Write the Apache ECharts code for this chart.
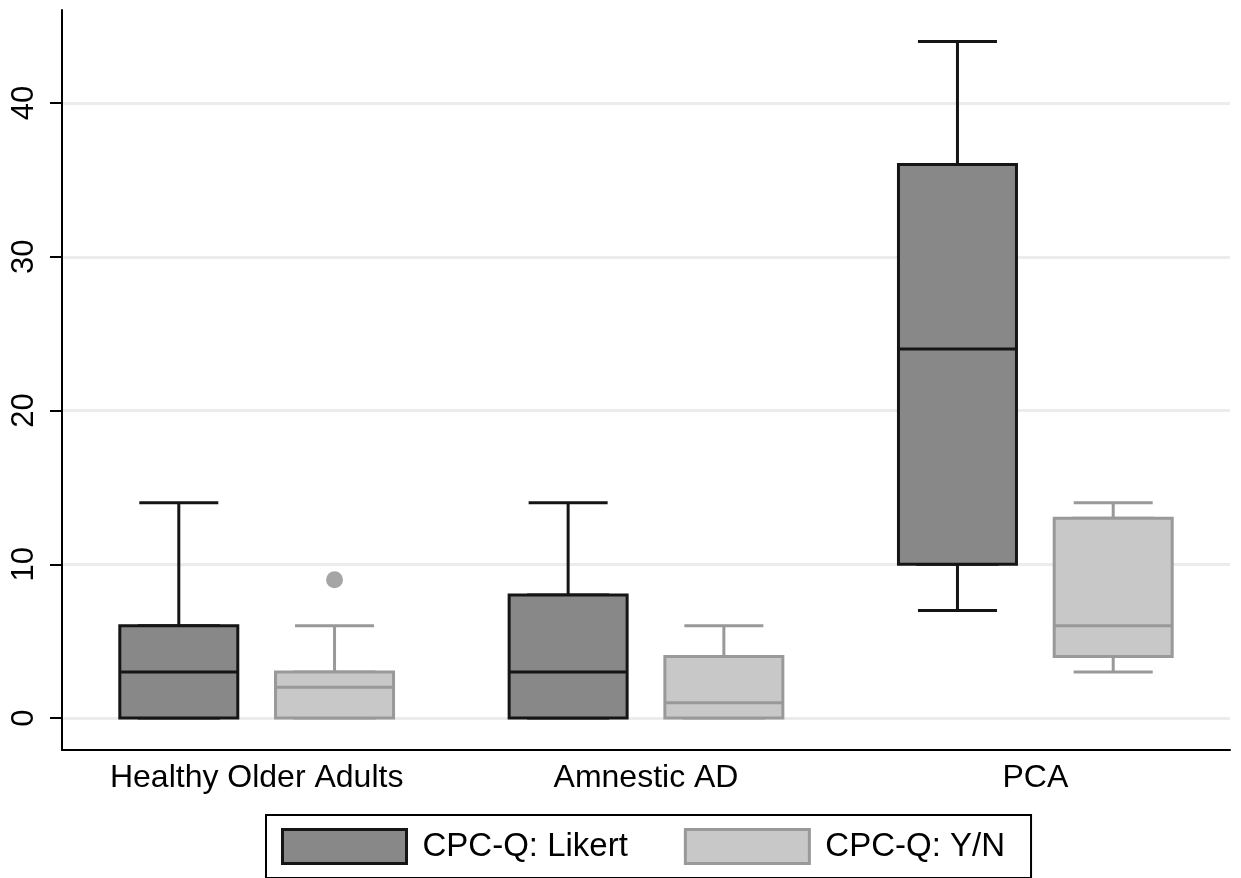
<!DOCTYPE html>
<html>
<head>
<meta charset="utf-8">
<script src="https://cdn.jsdelivr.net/npm/echarts@6/dist/echarts.min.js"></script>
<style>
    html, body { margin: 0; padding: 0; background: #fff; }
    #chart { width: 1241px; height: 878px; }
</style>
</head>
<body>
<div id="chart"></div>
<script>
// Data
const categories = ['Healthy Older Adults', 'Amnestic AD', 'PCA'];
// [min, Q1, median, Q3, max]
const likertStats = [[0, 0, 3, 6, 14], [0, 0, 3, 8, 14], [7, 10, 24, 36, 44]];
const ynStats = [[0, 0, 2, 3, 6], [0, 0, 1, 4, 6], [3, 4, 6, 13, 14]];
// [category index, value]
const ynOutliers = [[0, 9]];
const yTicks = [0, 10, 20, 30, 40];

const seriesNames = ['CPC-Q: Likert', 'CPC-Q: Y/N'];
const FONT = '"Liberation Sans", Arial, Helvetica, sans-serif';

// layout: where each box sits inside its category band
const boxShift = [-0.2, 0.2];

function whiskerData(stats, shift) {
    return stats.map((s, i) => [i + 0.5 + shift, s[0], s[1], s[2], s[3], s[4]]);
}
// box only: whiskers collapsed onto the box edges
function bodyData(stats, shift) {
    return stats.map((s, i) => [i + 0.5 + shift, s[1], s[1], s[2], s[3], s[3]]);
}

const likertStyle = { color: '#888888', borderColor: '#151515', borderWidth: 3 };
const ynStyle = { color: '#c8c8c8', borderColor: '#999999', borderWidth: 3 };

const hiddenX = () => ({ type: 'value', gridIndex: 0, min: 0, max: 3, show: false });

const chart = echarts.init(document.getElementById('chart'));

const option = {
    animation: false,
    backgroundColor: '#fff',
    grid: { left: 62, right: 11, top: 10, bottom: 128 },
    legend: {
        left: 266,
        top: 815,
        padding: [13, 26, 13, 15],
        borderColor: '#000',
        borderWidth: 2,
        itemWidth: 124,
        itemHeight: 34,
        itemGap: 56,
        textStyle: { fontFamily: FONT, fontSize: 33, color: '#000', padding: [0, 0, 0, 11] },
        data: [
            { name: seriesNames[0], icon: 'rect', itemStyle: likertStyle },
            { name: seriesNames[1], icon: 'rect', itemStyle: ynStyle }
        ]
    },
    xAxis: [
        {
            type: 'category',
            data: categories,
            boundaryGap: true,
            axisLine: { onZero: false, lineStyle: { color: '#000', width: 2 } },
            axisTick: { show: false },
            axisLabel: { fontFamily: FONT, fontSize: 32, color: '#000', margin: 12 },
            splitLine: { show: false }
        },
        hiddenX(), hiddenX(), hiddenX(), hiddenX(), hiddenX()
    ],
    yAxis: {
        type: 'value',
        min: -2.08,
        max: 46.05,
        axisLine: { show: true, onZero: false, lineStyle: { color: '#000', width: 2 } },
        axisTick: { show: true, length: 12, customValues: yTicks, lineStyle: { color: '#000', width: 2 } },
        axisLabel: { fontFamily: FONT, fontSize: 31, color: '#000', rotate: 90, margin: 22, customValues: yTicks },
        splitLine: { show: true, lineStyle: { color: '#ececec', width: 3 } }
    },
    series: [
        {
            name: seriesNames[0], type: 'boxplot', xAxisIndex: 1,
            boxWidth: [79, 79], itemStyle: likertStyle,
            data: whiskerData(likertStats, boxShift[0])
        },
        {
            name: seriesNames[0], type: 'boxplot', xAxisIndex: 2,
            boxWidth: [118, 118], itemStyle: likertStyle,
            data: bodyData(likertStats, boxShift[0])
        },
        {
            name: seriesNames[1], type: 'boxplot', xAxisIndex: 3,
            boxWidth: [79, 79], itemStyle: ynStyle,
            data: whiskerData(ynStats, boxShift[1])
        },
        {
            name: seriesNames[1], type: 'boxplot', xAxisIndex: 4,
            boxWidth: [118, 118], itemStyle: ynStyle,
            data: bodyData(ynStats, boxShift[1])
        },
        {
            name: seriesNames[1], type: 'scatter', xAxisIndex: 5,
            symbolSize: 17,
            itemStyle: { color: '#8f8f8f' },
            data: ynOutliers.map(o => [o[0] + 0.5 + boxShift[1], o[1]])
        }
    ]
};

chart.setOption(option);
</script>
</body>
</html>
